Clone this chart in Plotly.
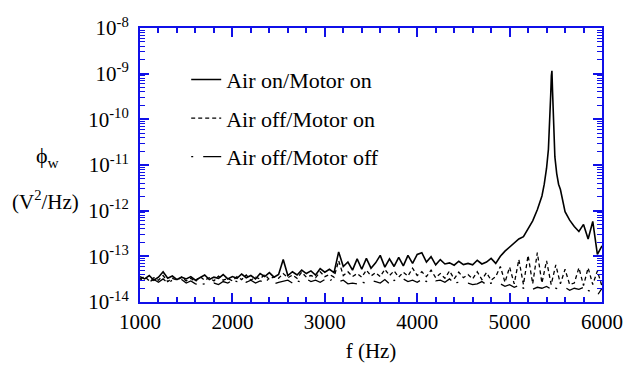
import plotly.graph_objects as go

# ---- data (spectral density in units of 1e-14 V^2/Hz) ----
UNIT = 1e-14

freq_grid = list(range(1000, 6001, 50))

freq_on = list(range(1000, 5351, 50)) + [5375, 5400, 5420, 5435, 5445, 5452, 5458,
                                         5465, 5475, 5490, 5510, 5530] + list(range(5550, 6001, 50))
air_on_motor_on = [
    3.6, 3.2, 3.8, 3.0, 3.5, 4.6, 3.3, 3.7, 3.1, 3.5, 3.2,
    3.6, 3.0, 3.4, 3.9, 3.1, 3.5, 3.3, 4.0, 3.2, 3.6,
    3.3, 4.1, 3.4, 3.8, 3.2, 4.2, 3.6, 4.4, 3.5, 4.0,
    8.5, 3.8, 4.6, 3.9, 5.0, 4.2, 4.8, 3.9, 5.4, 4.5,
    5.2, 4.4, 12.5, 6.0, 7.5, 5.0, 8.8, 5.2, 9.0, 5.5,
    7.2, 10.5, 5.8, 8.8, 6.0, 9.5, 6.2, 10.5, 7.0, 11.0,
    12.0, 7.5, 9.8, 6.5, 8.5, 6.8, 7.2, 6.4, 7.8, 6.6,
    7.0, 6.5, 8.2, 6.8, 7.5, 9.0, 7.0, 10.0, 13.0, 16.0,
    19.0, 24.0, 27.0, 40.0, 60.0, 105.0, 210.0,
    380.0, 850.0, 2200.0, 8000.0, 35000.0, 90000.0, 115000.0,
    40000.0, 6000.0, 1500.0, 650.0, 380.0,
    290.0, 95.0, 62.0, 45.0, 35.0, 50.0, 24.0, 58.0, 11.0, 17.0,
]

air_off_motor_on = [
    3.2, 3.6, 2.9, 3.4, 3.0, 3.8, 2.8, 3.3, 3.0, 3.5, 2.9,
    3.3, 2.8, 3.6, 3.0, 3.4, 2.9, 3.7, 3.0, 3.3, 2.9,
    3.6, 3.1, 3.9, 3.0, 3.5, 3.2, 4.0, 3.1, 3.6, 3.3,
    4.2, 3.4, 3.9, 3.3, 4.5, 3.5, 3.8, 3.4, 4.6, 3.6,
    4.0, 3.5, 8.0, 3.8, 4.6, 3.6, 4.2, 3.5, 5.0, 3.7,
    4.4, 3.6, 5.2, 3.8, 4.8, 3.5, 4.5, 3.7, 5.5, 3.8,
    4.6, 3.6, 5.0, 3.4, 4.2, 3.3, 4.8, 3.2, 4.5, 3.4,
    4.0, 3.2, 4.6, 3.1, 4.4, 3.0, 3.6, 6.0, 2.7, 5.8,
    2.5, 8.5, 2.4, 10.5, 2.5, 12.0, 2.6, 8.0, 2.4, 6.5,
    2.5, 5.2, 2.4, 2.6, 5.6, 2.3, 5.6, 2.4, 4.8, 2.2,
]

air_off_motor_off = [
    3.0, 3.3, 2.8, 3.1, 2.7, 3.2, 2.6, 3.0, 2.8, 3.1, 2.6,
    2.9, 2.5, 2.4, 2.5, 2.3, 2.6, 2.4, 2.8, 2.6, 3.0,
    2.8, 3.2, 2.7, 3.0, 2.6, 2.9, 2.7, 3.3, 2.5, 2.7,
    2.8, 3.0, 2.6, 2.9, 2.7, 3.2, 2.8, 3.0, 2.7, 3.1,
    2.9, 3.3, 2.8, 3.0, 2.5, 2.6, 2.5, 2.7, 2.6, 3.0,
    2.8, 2.6, 3.1, 2.5, 3.0, 2.7, 3.2, 2.8, 3.0, 2.7,
    3.1, 2.8, 3.3, 2.9, 3.0, 2.7, 3.2, 2.6, 2.7, 2.5,
    2.6, 2.4, 2.5, 2.8, 2.4, 2.6, 2.3, 2.5, 2.2, 2.4,
    2.1, 2.3, 2.0, 2.2, 1.9, 2.1, 2.0, 2.2, 1.9, 2.0,
    1.9, 2.1, 1.8, 2.0, 1.9, 2.1, 1.8, 1.6, 1.4, 2.0,
]

series_names = ["Air on/Motor on", "Air off/Motor on", "Air off/Motor off"]
y_tick_vals = [1e-14, 1e-13, 1e-12, 1e-11, 1e-10, 1e-9, 1e-8]
y_tick_text = ["10<sup>-14</sup>", "10<sup>-13</sup>", "10<sup>-12</sup>", "10<sup>-11</sup>",
               "10<sup>-10</sup>", "10<sup>-9</sup>", "10<sup>-8</sup>"]

FONT = "Liberation Serif, Times New Roman, Times, serif"
BLUE = "#1010e8"

fig = go.Figure()
fig.add_trace(go.Scatter(x=freq_on, y=[v * UNIT for v in air_on_motor_on], mode="lines",
                         name=series_names[0], legendgroup="a",
                         line=dict(color="black", width=1.6)))
fig.add_trace(go.Scatter(x=freq_grid, y=[v * UNIT for v in air_off_motor_on], mode="lines",
                         name=series_names[1], legendgroup="b",
                         line=dict(color="black", width=1.3, dash="4px,3px")))
fig.add_trace(go.Scatter(x=freq_grid, y=[v * UNIT for v in air_off_motor_off], mode="lines",
                         name=series_names[2], legendgroup="c",
                         line=dict(color="black", width=1.3, dash="2px,10px,18px,6px")))

axis_common = dict(showline=True, linecolor=BLUE, linewidth=2, mirror="allticks",
                   ticks="inside", tickcolor=BLUE, tickwidth=1.5, ticklen=9,
                   showgrid=False, zeroline=False,
                   tickfont=dict(family=FONT, size=21, color="black"))

fig.update_xaxes(range=[1000, 6000], dtick=1000, tick0=1000,
                 minor=dict(ticks="inside", ticklen=5, tickcolor=BLUE, tickwidth=1.5, dtick=200),
                 title=dict(text="f (Hz)", font=dict(family=FONT, size=21, color="black"), standoff=10),
                 **axis_common)
fig.update_yaxes(type="log", range=[-14, -8], tickvals=y_tick_vals, ticktext=y_tick_text,
                 minor=dict(ticks="inside", ticklen=5, tickcolor=BLUE, tickwidth=1.2, dtick="D1"),
                 ticklabelstandoff=5,
                 **axis_common)

fig.add_annotation(x=-0.2, y=0.53, xref="paper", yref="paper", text="ϕ<sub>w</sub>",
                   xanchor="center", yanchor="middle",
                   showarrow=False, font=dict(family=FONT, size=22, color="black"))
fig.add_annotation(x=-0.205, y=0.37, xref="paper", yref="paper", text="(V<sup>2</sup>/Hz)",
                   xanchor="center", yanchor="middle",
                   showarrow=False, font=dict(family=FONT, size=21, color="black"))

fig.update_layout(
    width=635, height=371,
    margin=dict(l=140, r=26, t=28, b=63),
    paper_bgcolor="white", plot_bgcolor="white",
    font=dict(family=FONT, color="black"),
    showlegend=True,
    legend=dict(x=0.1, y=0.888, xanchor="left", yanchor="top", bgcolor="rgba(0,0,0,0)",
                font=dict(family=FONT, size=22, color="black"), tracegroupgap=7),
)

fig.write_html("out.html")
